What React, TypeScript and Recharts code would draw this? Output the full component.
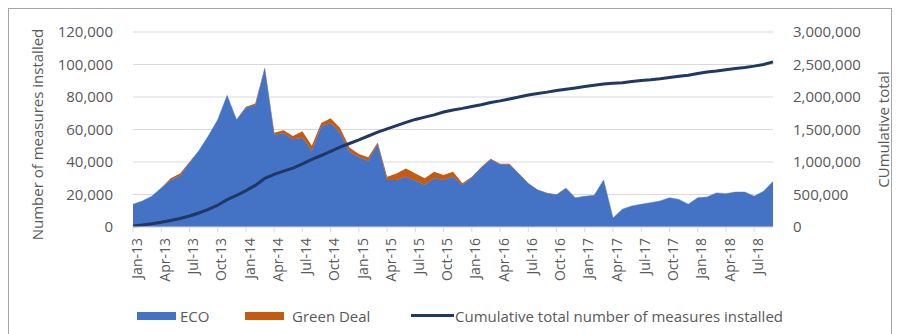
import React from "react";
import { ComposedChart, Area, Line, XAxis, YAxis, CartesianGrid, Label } from "recharts";

const months = [
  "Jan-13", "Feb-13", "Mar-13", "Apr-13", "May-13", "Jun-13", "Jul-13", "Aug-13", "Sep-13", "Oct-13", "Nov-13", "Dec-13",
  "Jan-14", "Feb-14", "Mar-14", "Apr-14", "May-14", "Jun-14", "Jul-14", "Aug-14", "Sep-14", "Oct-14", "Nov-14", "Dec-14",
  "Jan-15", "Feb-15", "Mar-15", "Apr-15", "May-15", "Jun-15", "Jul-15", "Aug-15", "Sep-15", "Oct-15", "Nov-15", "Dec-15",
  "Jan-16", "Feb-16", "Mar-16", "Apr-16", "May-16", "Jun-16", "Jul-16", "Aug-16", "Sep-16", "Oct-16", "Nov-16", "Dec-16",
  "Jan-17", "Feb-17", "Mar-17", "Apr-17", "May-17", "Jun-17", "Jul-17", "Aug-17", "Sep-17", "Oct-17", "Nov-17", "Dec-17",
  "Jan-18", "Feb-18", "Mar-18", "Apr-18", "May-18", "Jun-18", "Jul-18", "Aug-18", "Sep-18",
];

const eco = [
  14000, 16000, 19000, 24000, 29000, 31500, 39500, 47000, 56000, 66000, 81000, 66000,
  73500, 75000, 97500, 57000, 57500, 54000, 55000, 47000, 62000, 64000, 58000, 46500,
  43000, 41000, 51000, 29000, 29000, 31000, 28500, 26000, 30000, 29000, 31000, 26000,
  30500, 36500, 41500, 38500, 38500, 32700, 26700, 22800, 20800, 19800, 23800, 17900,
  18900, 19400, 28900, 5500, 11000, 13000, 14000, 15000, 16000, 18000, 17000, 14000,
  18000, 18500, 21000, 20500, 21500, 21500, 19000, 22000, 28000,
];

const greenDeal = [
  0, 0, 0, 0, 1000, 1500, 500, 0, 0, 0, 0, 0,
  500, 1000, 500, 1000, 2000, 2000, 4000, 3000, 2000, 3000, 3000, 2500,
  2000, 2000, 1000, 2000, 4000, 5000, 4500, 4000, 4000, 3000, 3000, 1000,
  500, 500, 500, 500, 500, 300, 300, 200, 200, 200, 200, 100,
  100, 100, 100, 0, 0, 0, 0, 0, 0, 0, 0, 0,
  0, 0, 0, 0, 0, 0, 0, 0, 0,
];

const cumulative = [
  14000, 30000, 50000, 72000, 100000, 132000, 170000, 215000, 270000, 335000, 420000, 485000,
  560000, 640000, 750000, 810000, 860000, 905000, 970000, 1040000, 1100000, 1165000, 1230000, 1285000,
  1340000, 1400000, 1460000, 1510000, 1560000, 1610000, 1655000, 1690000, 1725000, 1770000, 1800000, 1825000,
  1855000, 1880000, 1915000, 1940000, 1970000, 2000000, 2030000, 2055000, 2075000, 2100000, 2120000, 2140000,
  2160000, 2180000, 2200000, 2210000, 2220000, 2240000, 2255000, 2265000, 2280000, 2300000, 2320000, 2335000,
  2360000, 2385000, 2400000, 2420000, 2440000, 2455000, 2475000, 2500000, 2540000,
];

const leftTicks = [0, 20000, 40000, 60000, 80000, 100000, 120000];
const rightTicks = [0, 500000, 1000000, 1500000, 2000000, 2500000, 3000000];

const data = months.map((m, i) => ({
  month: m,
  eco: eco[i],
  greenDeal: greenDeal[i],
  cumulative: cumulative[i],
}));

const FONT = "'Open Sans', 'DejaVu Sans', sans-serif";
const GREY = "#595959";
const fmt = (v: number) => v.toLocaleString("en-US");

const MonthTick = ({ x, y, payload }: any) => {
  const ty = y + 4;
  return (
    <text
      x={x}
      y={ty}
      transform={`rotate(-90, ${x}, ${ty})`}
      textAnchor="end"
      dy="0.62em"
      fill={GREY}
      fontSize={14}
      fontFamily={FONT}
    >
      {payload.value}
    </text>
  );
};

const LeftTitle = ({ viewBox }: any) => {
  const cx = (viewBox?.x ?? 0) + 29;
  const cy = (viewBox?.y ?? 24) + (viewBox?.height ?? 195) / 2 + 5;
  return (
    <text
      x={cx}
      y={cy}
      transform={`rotate(-90, ${cx}, ${cy})`}
      textAnchor="middle"
      dominantBaseline="central"
      fill={GREY}
      fontSize={15}
      fontFamily={FONT}
    >
      Number of measures installed
    </text>
  );
};

const RightTitle = ({ viewBox }: any) => {
  const cx = (viewBox?.x ?? 765) + 110;
  const cy = (viewBox?.y ?? 24) + (viewBox?.height ?? 195) / 2;
  return (
    <text
      x={cx}
      y={cy}
      transform={`rotate(-90, ${cx}, ${cy})`}
      textAnchor="middle"
      dominantBaseline="central"
      fill={GREY}
      fontSize={15}
      fontFamily={FONT}
    >
      CUmulative total
    </text>
  );
};

const legendText: React.CSSProperties = {
  position: "absolute",
  top: 298,
  fontSize: 15,
  color: GREY,
  fontFamily: FONT,
  lineHeight: "20px",
  whiteSpace: "nowrap",
};

export default function App() {
  return (
    <div style={{ position: "relative", width: 885, height: 326 }}>
      <div
        style={{
          position: "absolute",
          left: 0,
          top: 0,
          width: 884,
          height: 326,
          boxSizing: "border-box",
          borderTop: "1px solid #a6a6a6",
          borderLeft: "1px solid #a6a6a6",
          borderRight: "1px solid #a6a6a6",
        }}
      />
      <ComposedChart
        width={885}
        height={326}
        data={data}
        margin={{ top: 24, right: 0, bottom: 0, left: 0 }}
        style={{ position: "absolute", left: 0, top: 0 }}
      >
        <CartesianGrid yAxisId="left" vertical={false} stroke="#d9d9d9" />
        <XAxis
          dataKey="month"
          scale="point"
          interval={2}
          height={107}
          tickSize={5}
          tickLine={{ stroke: "#d9d9d9" }}
          axisLine={{ stroke: "#d9d9d9" }}
          tick={<MonthTick />}
        />
        <YAxis
          yAxisId="left"
          domain={[0, 120000]}
          ticks={leftTicks}
          width={125}
          axisLine={false}
          tickLine={false}
          tickSize={0}
          tickMargin={20}
          tickFormatter={fmt}
          tick={{ fill: GREY, fontSize: 15, fontFamily: FONT }}
        >
          <Label content={<LeftTitle />} />
        </YAxis>
        <YAxis
          yAxisId="right"
          orientation="right"
          domain={[0, 3000000]}
          ticks={rightTicks}
          width={120}
          axisLine={false}
          tickLine={false}
          tickSize={0}
          tickMargin={20}
          tickFormatter={fmt}
          tick={{ fill: GREY, fontSize: 15, fontFamily: FONT }}
        >
          <Label content={<RightTitle />} />
        </YAxis>
        <Area
          yAxisId="left"
          type="linear"
          dataKey="eco"
          stackId="1"
          fill="#4472C4"
          stroke="#4472C4"
          strokeWidth={0.5}
          fillOpacity={1}
          isAnimationActive={false}
        />
        <Area
          yAxisId="left"
          type="linear"
          dataKey="greenDeal"
          stackId="1"
          fill="#C55A11"
          stroke="none"
          fillOpacity={1}
          isAnimationActive={false}
        />
        <Line
          yAxisId="right"
          type="linear"
          dataKey="cumulative"
          stroke="#1F3864"
          strokeWidth={3}
          dot={false}
          isAnimationActive={false}
        />
      </ComposedChart>
      <div style={{ position: "absolute", left: 129, top: 304, width: 39, height: 8, background: "#4472C4" }} />
      <div style={{ ...legendText, left: 172 }}>ECO</div>
      <div style={{ position: "absolute", left: 237, top: 304, width: 39, height: 8, background: "#C55A11" }} />
      <div style={{ ...legendText, left: 284 }}>Green Deal</div>
      <div style={{ position: "absolute", left: 403, top: 306, width: 43, height: 3, background: "#1F3864" }} />
      <div style={{ ...legendText, left: 447 }}>Cumulative total number of measures installed</div>
    </div>
  );
}
